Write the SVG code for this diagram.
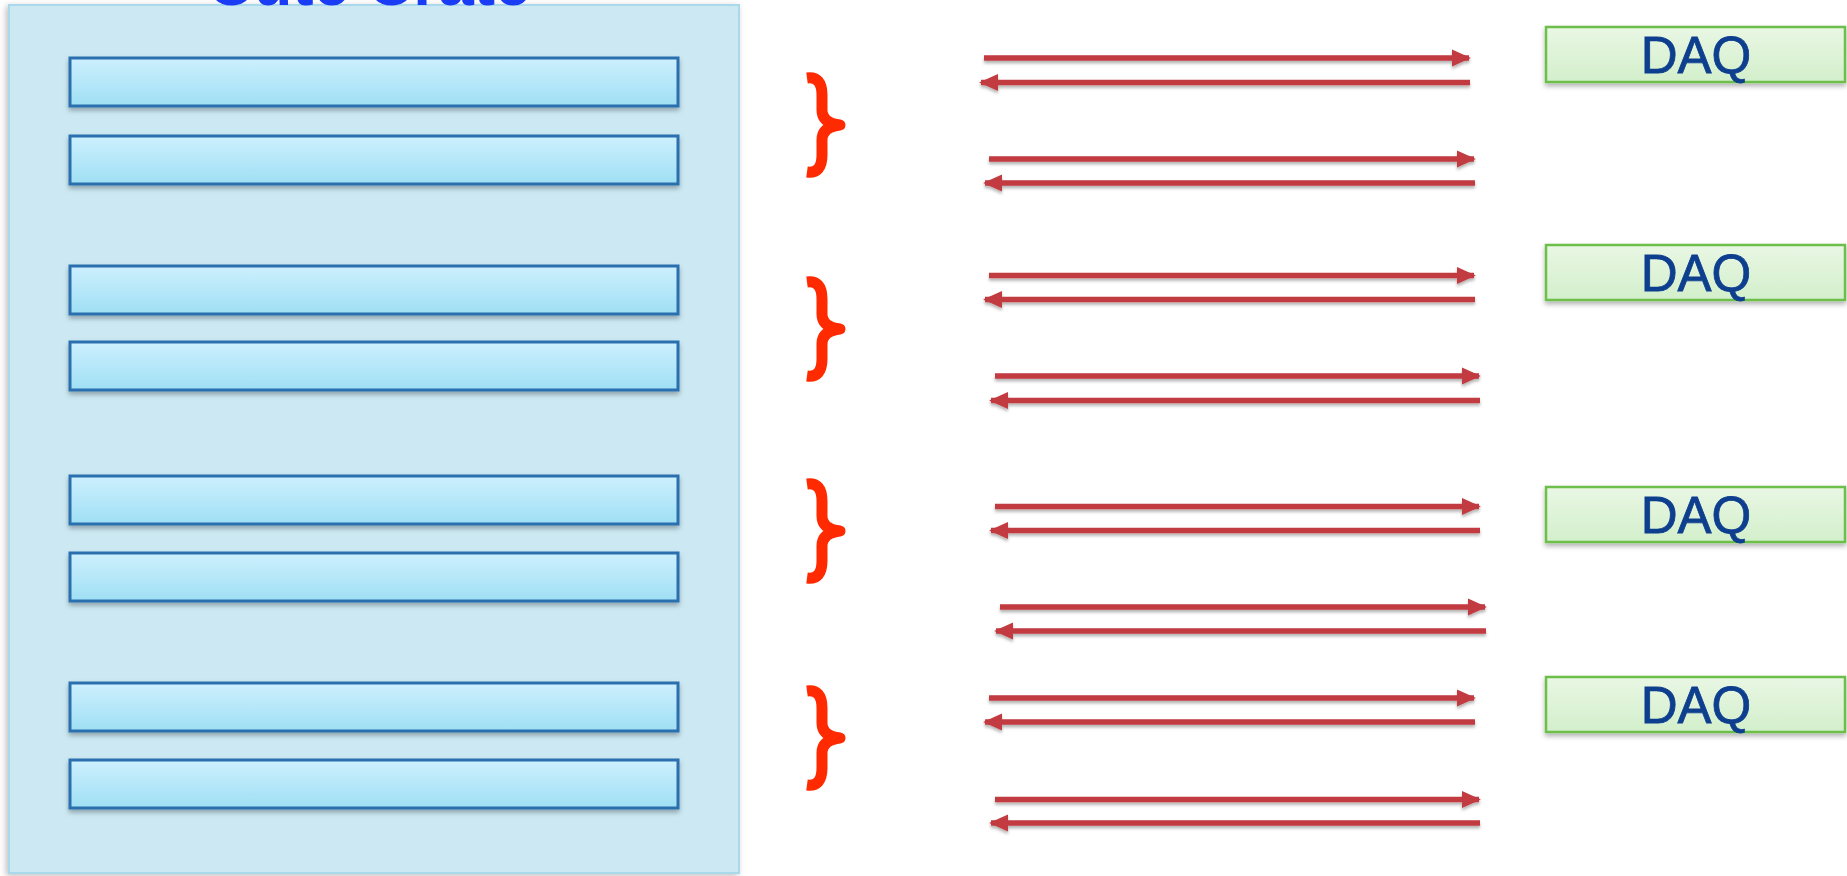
<svg xmlns="http://www.w3.org/2000/svg" width="1847" height="876" viewBox="0 0 1847 876">
  <defs>
    <linearGradient id="slotFill" x1="0" y1="0" x2="0" y2="1">
      <stop offset="0" stop-color="#cdf0fe"/>
      <stop offset="1" stop-color="#9fdff4"/>
    </linearGradient>
    <linearGradient id="daqFill" x1="0" y1="0" x2="0" y2="1">
      <stop offset="0" stop-color="#e9f7e4"/>
      <stop offset="1" stop-color="#d3efcb"/>
    </linearGradient>
    <filter id="softShadow" x="-10%" y="-30%" width="120%" height="180%">
      <feDropShadow dx="0" dy="3" stdDeviation="2.5" flood-color="#000" flood-opacity="0.3"/>
    </filter>
    <filter id="crateShadow" x="-5%" y="-5%" width="110%" height="110%">
      <feDropShadow dx="-2" dy="2" stdDeviation="3" flood-color="#000" flood-opacity="0.25"/>
    </filter>
    <!-- user-space region so flat horizontal lines keep their shadow -->
    <filter id="lineShadow" filterUnits="userSpaceOnUse" x="0" y="0" width="1847" height="876">
      <feDropShadow dx="0" dy="2.5" stdDeviation="1.8" flood-color="#000" flood-opacity="0.3"/>
    </filter>
    <marker id="head" viewBox="0 0 10 10" refX="9" refY="5" markerUnits="userSpaceOnUse" markerWidth="19" markerHeight="19" orient="auto-start-reverse">
      <path d="M0,0.5 L10,5 L0,9.5 Z" fill="#c23a40"/>
    </marker>
  </defs>
  <style>
    .crate { fill: #cce9f3; stroke: #a9d9ea; stroke-width: 2; }
    .slot { fill: url(#slotFill); stroke: #2b6fae; stroke-width: 3; filter: url(#softShadow); }
    .brace { fill: none; stroke: #ff2a00; stroke-width: 11; stroke-linecap: butt; stroke-linejoin: round; }
    .link { stroke: #c23a40; stroke-width: 5.5; fill: none; filter: url(#lineShadow); }
    .fwd { marker-end: url(#head); }
    .back { marker-start: url(#head); }
    .daq rect { fill: url(#daqFill); stroke: #6dbe4c; stroke-width: 2.5; filter: url(#softShadow); }
    .daq text { font-family: "Liberation Sans", Arial, sans-serif; font-size: 51px; fill: #0e3f8e; stroke: #0e3f8e; stroke-width: 0.8; text-anchor: middle; }
    .title { font-family: "Liberation Sans", Arial, sans-serif; font-size: 64px; font-weight: bold; fill: #1b3cf5; }
  </style>

  <!-- crate with its eight slot cards -->
  <g id="crate">
    <rect class="crate" x="9" y="5" width="730" height="868" filter="url(#crateShadow)"/>
    <text class="title" x="207" y="5">Cute Crate</text>
  </g>
  <g id="slot1"><rect class="slot" x="70" y="58" width="608" height="48"/></g>
  <g id="slot2"><rect class="slot" x="70" y="136" width="608" height="48"/></g>
  <g id="slot3"><rect class="slot" x="70" y="266" width="608" height="48"/></g>
  <g id="slot4"><rect class="slot" x="70" y="342" width="608" height="48"/></g>
  <g id="slot5"><rect class="slot" x="70" y="476" width="608" height="48"/></g>
  <g id="slot6"><rect class="slot" x="70" y="553" width="608" height="48"/></g>
  <g id="slot7"><rect class="slot" x="70" y="683" width="608" height="48"/></g>
  <g id="slot8"><rect class="slot" x="70" y="760" width="608" height="48"/></g>

  <!-- braces grouping slot pairs -->
  <g id="brace1"><path class="brace" d="M807,78 Q822,76 822,95 L822,110 Q822,123 840,125 Q822,127 822,140 L822,155 Q822,174 807,172"/></g>
  <g id="brace2"><path class="brace" d="M807,282 Q822,280 822,299 L822,314 Q822,327 840,329 Q822,331 822,344 L822,359 Q822,378 807,376"/></g>
  <g id="brace3"><path class="brace" d="M807,484 Q822,482 822,501 L822,516 Q822,529 840,531 Q822,533 822,546 L822,561 Q822,580 807,578"/></g>
  <g id="brace4"><path class="brace" d="M807,691 Q822,689 822,708 L822,723 Q822,736 840,738 Q822,740 822,753 L822,768 Q822,787 807,785"/></g>

  <!-- DAQ boards -->
  <g id="daq1" class="daq"><rect x="1546" y="27" width="299" height="55"/><text x="1696" y="73">DAQ</text></g>
  <g id="daq2" class="daq"><rect x="1546" y="245" width="299" height="55"/><text x="1696" y="291">DAQ</text></g>
  <g id="daq3" class="daq"><rect x="1546" y="487" width="299" height="55"/><text x="1696" y="533">DAQ</text></g>
  <g id="daq4" class="daq"><rect x="1546" y="677" width="299" height="55"/><text x="1696" y="723">DAQ</text></g>

  <!-- bidirectional links -->
  <g id="connectors">
    <line class="link fwd" x1="984" y1="58" x2="1469" y2="58"/>
    <line class="link back" x1="981" y1="82.5" x2="1470" y2="82.5"/>
    <line class="link fwd" x1="989" y1="159" x2="1474" y2="159"/>
    <line class="link back" x1="985" y1="183" x2="1475" y2="183"/>
    <line class="link fwd" x1="989" y1="275.5" x2="1474" y2="275.5"/>
    <line class="link back" x1="985" y1="299.5" x2="1475" y2="299.5"/>
    <line class="link fwd" x1="995" y1="376" x2="1479" y2="376"/>
    <line class="link back" x1="991" y1="400.5" x2="1480" y2="400.5"/>
    <line class="link fwd" x1="995" y1="506.5" x2="1479" y2="506.5"/>
    <line class="link back" x1="991" y1="530.5" x2="1480" y2="530.5"/>
    <line class="link fwd" x1="1000" y1="607" x2="1485" y2="607"/>
    <line class="link back" x1="996" y1="631" x2="1486" y2="631"/>
    <line class="link fwd" x1="989" y1="698" x2="1474" y2="698"/>
    <line class="link back" x1="985" y1="722" x2="1475" y2="722"/>
    <line class="link fwd" x1="995" y1="799.5" x2="1479" y2="799.5"/>
    <line class="link back" x1="991" y1="823" x2="1480" y2="823"/>
  </g>
</svg>
